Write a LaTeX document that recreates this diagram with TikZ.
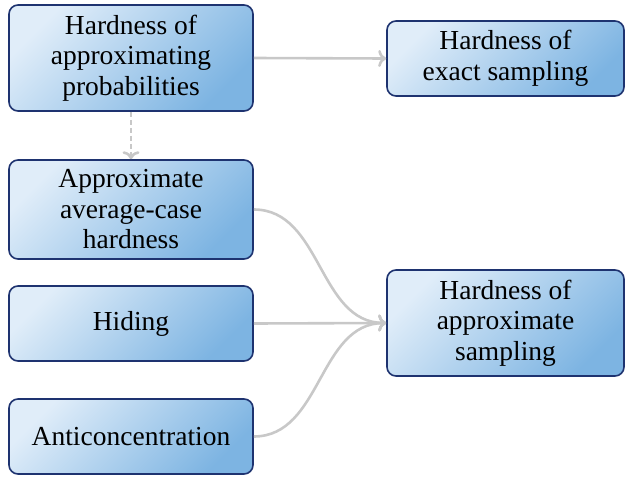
\documentclass[tikz,border=0pt]{standalone}
\usepackage{fontspec}
\setmainfont{Liberation Serif}
\usetikzlibrary{arrows.meta}
\definecolor{boxlight}{HTML}{E0EDF9}
\definecolor{boxdark}{HTML}{7DB4E2}
\definecolor{boxline}{HTML}{1E3370}
\definecolor{arrowgray}{HTML}{C8C8C8}
\tikzset{
  box/.style={draw=boxline, line width=1.6pt, rounded corners=9pt,
    top color=boxlight, bottom color=boxdark, shading angle=45,
    align=center, inner sep=0pt, font=\fontsize{27.5}{30.5}\selectfont},
  conn/.style={draw=arrowgray, line width=2.6pt, -{To[length=8pt,width=17pt]}},
}
\begin{document}
\begin{tikzpicture}[x=1pt,y=-1pt]
\useasboundingbox (0,0) rectangle (625,477);
\node[box, minimum width=244pt, minimum height=106pt] (prob) at (131,58) {Hardness of\\approximating\\probabilities};
\node[box, minimum width=237pt, minimum height=75pt] (exact) at (505.5,58.5) {Hardness of\\exact sampling};
\node[box, minimum width=244pt, minimum height=99pt] (avg) at (131,209.5) {Approximate\\average-case\\hardness};
\node[box, minimum width=244pt, minimum height=75pt] (hid) at (131,323.5) {Hiding};
\node[box, minimum width=244pt, minimum height=75pt] (anti) at (131,436.5) {Anticoncentration};
\node[box, minimum width=237pt, minimum height=106pt] (appr) at (505.5,323) {Hardness of\\approximate\\sampling};
\draw[conn] (prob.east) -- (exact.west);
\draw[conn, dash pattern=on 5pt off 3pt] (prob.south) -- (avg.north);
\draw[conn] (avg.east) to[out=0,in=180] (appr.west);
\draw[conn] (hid.east) -- (appr.west);
\draw[conn] (anti.east) to[out=0,in=180] (appr.west);
\end{tikzpicture}
\end{document}
